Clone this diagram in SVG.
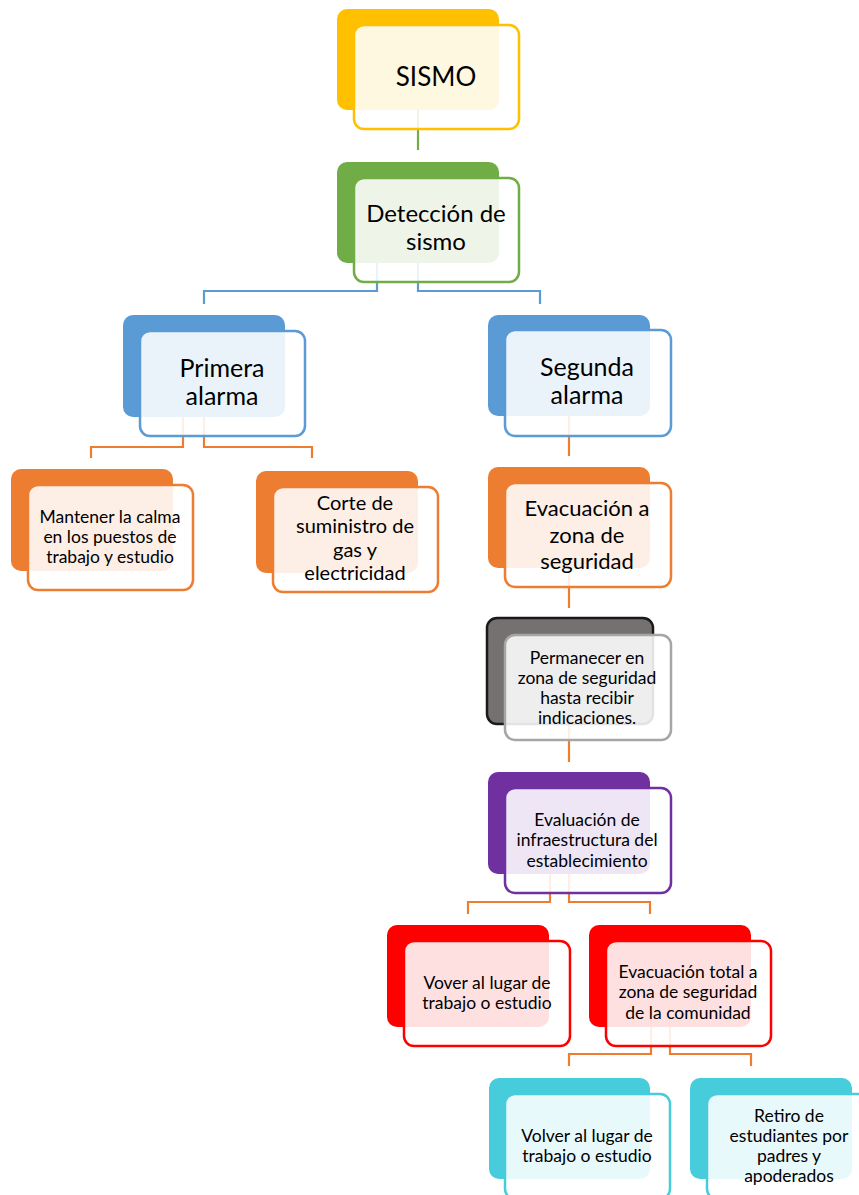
<svg xmlns="http://www.w3.org/2000/svg" width="859" height="1195" viewBox="0 0 859 1195">
<style>
.bk{stroke:none}
.fr{fill:#ffffff;fill-opacity:0.88;stroke-width:2.5}
.c{fill:none;stroke-width:2.2}
.t{font-family:Lato,"Open Sans",sans-serif;fill:#000;text-anchor:middle}
.P{font-size:25px}
.D{font-size:24px}
.M{font-size:22px}
.C{font-size:20px}
.S{font-size:17.5px}
</style>
<rect width="859" height="1195" fill="#fff"/>
<g id="connectors">
<path class="c" stroke="#70ad47" d="M418 110V150"/>
<path class="c" stroke="#5b9bd5" d="M377 263V291H204V304M418 263V291H540V304"/>
<path class="c" stroke="#ed7d31" d="M183 417V447H91V458M204 417V447H312V458"/>
<path class="c" stroke="#ed7d31" d="M569 416V456M569 568V608M569 724V762"/>
<path class="c" stroke="#ed7d31" d="M550 874V902H468V914M569 874V902H650V914"/>
<path class="c" stroke="#ed7d31" d="M651 1027V1054H569V1066M670 1027V1054H751V1066"/>
</g>
<g id="n-sismo">
<rect class="bk" x="337" y="9" width="162" height="101" rx="10" fill="#ffc000"/>
<rect class="fr" x="354" y="25" width="165" height="104" rx="10" stroke="#ffc000"/>
<text class="t" font-size="26" x="436" y="86">SISMO</text>
</g>
<g id="n-deteccion">
<rect class="bk" x="337" y="162" width="162" height="101" rx="10" fill="#70ad47"/>
<rect class="fr" x="354" y="178" width="165" height="104" rx="10" stroke="#70ad47"/>
<text class="t D" x="436" y="222">Detección de</text>
<text class="t D" x="436" y="250">sismo</text>
</g>
<g id="n-primera">
<rect class="bk" x="123" y="315" width="162" height="102" rx="10" fill="#5b9bd5"/>
<rect class="fr" x="140" y="331" width="165" height="105" rx="10" stroke="#5b9bd5"/>
<text class="t P" x="222" y="377">Primera</text>
<text class="t P" x="222" y="405">alarma</text>
</g>
<g id="n-segunda">
<rect class="bk" x="488" y="315" width="162" height="101" rx="10" fill="#5b9bd5"/>
<rect class="fr" x="505" y="330" width="166" height="106" rx="10" stroke="#5b9bd5"/>
<text class="t P" x="587" y="376">Segunda</text>
<text class="t P" x="587" y="404">alarma</text>
</g>
<g id="n-mantener">
<rect class="bk" x="11" y="469" width="162" height="102" rx="10" fill="#ed7d31"/>
<rect class="fr" x="28" y="485" width="165" height="105" rx="10" stroke="#ed7d31"/>
<text class="t S" x="110" y="523">Mantener la calma</text>
<text class="t S" x="110" y="543">en los puestos de</text>
<text class="t S" x="110" y="563">trabajo y estudio</text>
</g>
<g id="n-corte">
<rect class="bk" x="256" y="471" width="162" height="102" rx="10" fill="#ed7d31"/>
<rect class="fr" x="273" y="487" width="165" height="105" rx="10" stroke="#ed7d31"/>
<text class="t C" x="355" y="510">Corte de</text>
<text class="t C" x="355" y="533">suministro de</text>
<text class="t C" x="355" y="557">gas y</text>
<text class="t C" x="355" y="580">electricidad</text>
</g>
<g id="n-evacuacion">
<rect class="bk" x="488" y="467" width="162" height="101" rx="10" fill="#ed7d31"/>
<rect class="fr" x="505" y="483" width="166" height="104" rx="10" stroke="#ed7d31"/>
<text class="t M" x="587" y="516">Evacuación a</text>
<text class="t M" x="587" y="543">zona de</text>
<text class="t M" x="587" y="569">seguridad</text>
</g>
<g id="n-permanecer">
<rect x="487" y="618" width="166" height="106" rx="10" fill="#767171" stroke="#1a1a1a" stroke-width="2.5"/>
<rect class="fr" x="505" y="635" width="166" height="105" rx="10" stroke="#a6a6a6"/>
<text class="t S" x="587" y="664">Permanecer en</text>
<text class="t S" x="587" y="684">zona de seguridad</text>
<text class="t S" x="587" y="704">hasta recibir</text>
<text class="t S" x="587" y="724">indicaciones.</text>
</g>
<g id="n-evaluacion">
<rect class="bk" x="488" y="772" width="162" height="102" rx="10" fill="#7030a0"/>
<rect class="fr" x="505" y="788" width="166" height="105" rx="10" stroke="#7030a0"/>
<text class="t S" x="587" y="826">Evaluación de</text>
<text class="t S" x="587" y="846">infraestructura del</text>
<text class="t S" x="587" y="867">establecimiento</text>
</g>
<g id="n-vover">
<rect class="bk" x="387" y="925" width="162" height="102" rx="10" fill="#ff0000"/>
<rect class="fr" x="404" y="941" width="166" height="105" rx="10" stroke="#ff0000"/>
<text class="t S" x="487" y="989">Vover al lugar de</text>
<text class="t S" x="487" y="1009">trabajo o estudio</text>
</g>
<g id="n-evactotal">
<rect class="bk" x="589" y="925" width="162" height="102" rx="10" fill="#ff0000"/>
<rect class="fr" x="606" y="941" width="165" height="105" rx="10" stroke="#ff0000"/>
<text class="t S" x="688" y="978">Evacuación total a</text>
<text class="t S" x="688" y="998">zona de seguridad</text>
<text class="t S" x="688" y="1019">de la comunidad</text>
</g>
<g id="n-volver">
<rect class="bk" x="489" y="1078" width="161" height="101" rx="10" fill="#47ccdb"/>
<rect class="fr" x="505" y="1094" width="165" height="105" rx="10" stroke="#47ccdb"/>
<text class="t S" x="587" y="1142">Volver al lugar de</text>
<text class="t S" x="587" y="1162">trabajo o estudio</text>
</g>
<g id="n-retiro">
<rect class="bk" x="690" y="1078" width="162" height="101" rx="10" fill="#47ccdb"/>
<rect class="fr" x="707" y="1094" width="166" height="105" rx="10" stroke="#47ccdb"/>
<text class="t S" x="789" y="1122">Retiro de</text>
<text class="t S" x="789" y="1142">estudiantes por</text>
<text class="t S" x="789" y="1162">padres y</text>
<text class="t S" x="789" y="1182">apoderados</text>
</g>
</svg>
